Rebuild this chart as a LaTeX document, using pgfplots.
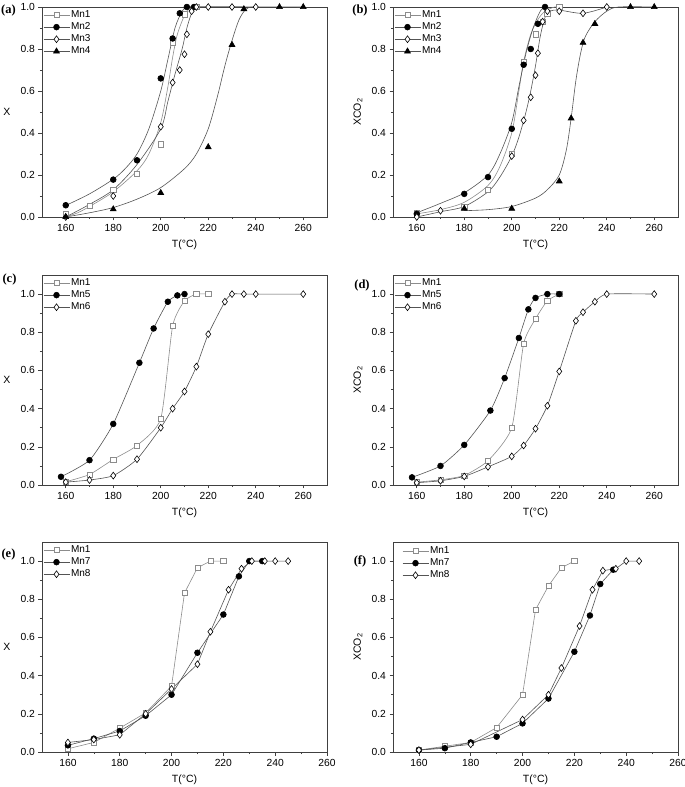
\documentclass[border=0pt]{standalone}
\usepackage{fontspec}
\setmainfont{Liberation Sans}
\newfontfamily\serifb{Liberation Serif}
\usepackage{pgfplots}
\pgfplotsset{compat=1.18}

\definecolor{lg}{gray}{0.55}
\definecolor{dg}{gray}{0.33}
\definecolor{ax}{gray}{0.25}

\pgfplotsset{
  panel/.style={
    scale only axis, width=285pt, height=210pt,
    xmin=150, xmax=270, ymin=0, ymax=1,
    xtick={160,180,200,220,240,260}, minor x tick num=1,
    ytick={0,0.2,0.4,0.6,0.8,1.0}, minor y tick num=1,
    tick pos=left, tick align=outside,
    major tick length=3.5pt, minor tick length=2pt,
    axis line style={ax, line width=0.6pt},
    tick style={ax, line width=0.6pt},
    clip=false,
    /pgf/number format/assume math mode=true,
    yticklabel style={/pgf/number format/.cd, fixed, fixed zerofill, precision=1},
    tick label style={font=\fontsize{10.3}{12}\selectfont},
    label style={font=\fontsize{10.5}{12}\selectfont},
    xlabel={T(°C)},
    xlabel style={at={([yshift=-28pt]axis description cs:0.5,0)}, anchor=center},
    ylabel style={at={([xshift=-35pt]axis description cs:0,0.5)}, anchor=center},
    legend style={draw=none, fill=none, at={([xshift=1pt,yshift=-2pt]axis description cs:0,1)},
      anchor=north west, font=\fontsize{10}{11}\selectfont,
      inner sep=0pt, row sep=0.4pt,
      nodes={inner sep=1.2pt, text height=7.3pt, text depth=2pt}},
    legend cell align=left,
    legend image code/.code={\draw[mark repeat=2,mark phase=2,#1] plot coordinates {(0pt,0pt)(13pt,0pt)(26pt,0pt)};},
  },
  tall/.style={ymax=1.1},
  s1/.style={color=lg, line width=0.6pt, mark=square*, mark size=2.6pt, mark options={fill=white, draw=lg, solid}},
  s2/.style={color=dg, line width=0.6pt, mark=*, mark size=2.9pt, mark options={fill=black, draw=black, solid}},
  s3/.style={color=dg, line width=0.6pt, mark=diamond*, mark size=3.4pt, mark options={fill=white, draw=black, solid}},
  s4/.style={color=dg, line width=0.6pt, mark=triangle*, mark size=3.4pt, mark options={fill=black, draw=black, solid}},
}

\newcommand{\plab}[2]{\node[font=\serifb\bfseries\fontsize{12.5}{13}\selectfont] at #1 {#2};}

\begin{document}
\begin{tikzpicture}
\useasboundingbox (0pt,0pt) rectangle (685pt,787pt);

% (a)
\begin{axis}[panel, at={(42pt,570pt)}, anchor=south west, ylabel={X}, ylabel style={rotate=-90}]
\addplot[lg, line width=0.6pt, smooth, forget plot] coordinates {(160,0.0)(165,0.02)(170,0.05)(180,0.12)(190,0.22)(195,0.3)(200,0.45)(203,0.62)(205,0.76)(207,0.87)(210,0.96)(212,0.99)(215,1.0)};
\addplot[dg, line width=0.6pt, smooth, forget plot] coordinates {(160,0.055)(170,0.11)(180,0.18)(185,0.23)(190,0.3)(195,0.42)(200,0.6)(203,0.75)(206,0.9)(209,0.98)(211,1.0)(214,1.0)};
\addplot[dg, line width=0.6pt, smooth, forget plot] coordinates {(160,0.0)(170,0.06)(180,0.13)(190,0.25)(200,0.42)(203,0.55)(206,0.68)(209,0.8)(211,0.9)(213,0.97)(215,1.0)(240,1.0)};
\addplot[dg, line width=0.6pt, smooth, forget plot] coordinates {(160,0.0)(170,0.02)(180,0.045)(190,0.085)(200,0.14)(210,0.23)(215,0.3)(220,0.42)(224,0.58)(227,0.72)(230,0.84)(233,0.94)(236,0.99)(240,1.0)(260,1.0)};
\addplot[s1, only marks, forget plot] coordinates {(160,0.015)(170,0.053)(180,0.13)(190,0.207)(200,0.346)(205,0.83)(210,0.965)(215,1.0)};
\addplot[s2, only marks, forget plot] coordinates {(160,0.056)(180,0.178)(190,0.27)(200,0.66)(205,0.85)(208,0.97)(211,1.0)(214,1.0)};
\addplot[s3, only marks, forget plot] coordinates {(160,0.0)(180,0.1)(200,0.43)(205,0.64)(208,0.70)(210,0.775)(211,0.87)(213,0.98)(215,1.0)(220,1.0)(230,1.0)(240,1.0)};
\addplot[s4, only marks, forget plot] coordinates {(160,0.0)(180,0.037)(200,0.115)(220,0.333)(230,0.82)(235,0.99)(250,1.0)(260,1.0)};
\addlegendimage{s1}\addlegendentry{Mn1}
\addlegendimage{s2}\addlegendentry{Mn2}
\addlegendimage{s3}\addlegendentry{Mn3}
\addlegendimage{s4}\addlegendentry{Mn4}
\end{axis}

% (b)
\begin{axis}[panel, at={(393pt,570pt)}, anchor=south west, ylabel={XCO\textsubscript{2}}]
\addplot[lg, line width=0.6pt, smooth, forget plot] coordinates {(160,0.015)(170,0.035)(180,0.07)(190,0.15)(195,0.24)(200,0.4)(203,0.6)(205,0.74)(208,0.87)(211,0.94)(214,0.98)(218,1.0)(220,1.0)};
\addplot[dg, line width=0.6pt, smooth, forget plot] coordinates {(160,0.02)(170,0.065)(180,0.115)(190,0.2)(195,0.3)(200,0.45)(203,0.62)(206,0.78)(209,0.9)(212,0.98)(214,1.0)};
\addplot[dg, line width=0.6pt, smooth, forget plot] coordinates {(160,0.0)(170,0.025)(180,0.05)(190,0.12)(195,0.19)(200,0.29)(203,0.38)(206,0.5)(208,0.6)(210,0.72)(212,0.86)(214,0.95)(216,0.98)(220,0.985)(230,0.97)(240,1.0)};
\addplot[dg, line width=0.6pt, smooth, forget plot] coordinates {(180,0.03)(190,0.035)(200,0.05)(210,0.09)(215,0.13)(220,0.2)(223,0.32)(225,0.47)(227,0.65)(229,0.78)(231,0.86)(235,0.93)(240,0.98)(245,1.0)(260,1.0)};
\addplot[s1, only marks, forget plot] coordinates {(160,0.02)(180,0.05)(190,0.13)(200,0.30)(205,0.74)(210,0.87)(213,0.93)(215,0.97)(220,1.0)};
\addplot[s2, only marks, forget plot] coordinates {(160,0.015)(180,0.11)(190,0.19)(200,0.42)(205,0.725)(208,0.80)(211,0.92)(214,1.0)};
\addplot[s3, only marks, forget plot] coordinates {(160,0.0)(170,0.03)(200,0.29)(205,0.46)(208,0.57)(210,0.675)(211,0.78)(213,0.93)(215,0.98)(220,0.98)(230,0.97)(240,1.0)};
\addplot[s4, only marks, forget plot] coordinates {(180,0.04)(200,0.04)(220,0.17)(225,0.47)(230,0.83)(235,0.92)(250,1.0)(260,1.0)};
\addlegendimage{s1}\addlegendentry{Mn1}
\addlegendimage{s2}\addlegendentry{Mn2}
\addlegendimage{s3}\addlegendentry{Mn3}
\addlegendimage{s4}\addlegendentry{Mn4}
\end{axis}

% (c)
\begin{axis}[panel, tall, at={(42pt,302pt)}, anchor=south west, ylabel={X}, ylabel style={rotate=-90}]
\addplot[s1, smooth, tension=0.35] coordinates {(160,0.017)(170,0.055)(180,0.134)(190,0.207)(200,0.347)(205,0.833)(210,0.964)(215,1.0)(220,1.0)};
\addplot[s2, smooth, tension=0.35] coordinates {(158,0.043)(170,0.13)(180,0.32)(191,0.64)(197,0.82)(203,0.96)(207,0.993)(210,1.0)};
\addplot[s3, smooth, tension=0.35] coordinates {(160,0.015)(170,0.026)(180,0.049)(190,0.135)(200,0.30)(205,0.40)(210,0.49)(215,0.62)(220,0.79)(227,0.96)(230,1.0)(235,1.0)(240,1.0)(260,1.0)};
\legend{Mn1,Mn5,Mn6}
\end{axis}

% (d)
\begin{axis}[panel, tall, at={(393pt,302pt)}, anchor=south west, ylabel={XCO\textsubscript{2}}]
\addplot[s1, smooth, tension=0.35] coordinates {(160,0.015)(170,0.027)(180,0.05)(190,0.127)(200,0.30)(205,0.74)(210,0.87)(215,0.965)(220,1.0)};
\addplot[s2, smooth, tension=0.35] coordinates {(158,0.04)(170,0.10)(180,0.21)(191,0.39)(197,0.56)(203,0.77)(207,0.92)(210,0.98)(215,1.0)(220,1.0)};
\addplot[s3, smooth, tension=0.35] coordinates {(160,0.012)(170,0.022)(180,0.045)(190,0.095)(200,0.15)(205,0.207)(210,0.295)(215,0.415)(220,0.595)(227,0.86)(230,0.905)(235,0.96)(240,1.0)(260,1.0)};
\legend{Mn1,Mn5,Mn6}
\end{axis}

% (e)
\begin{axis}[panel, tall, xmax=260, at={(42pt,35pt)}, anchor=south west, ylabel={X}, ylabel style={rotate=-90}]
\addplot[s1] coordinates {(160,0.017)(170,0.05)(180,0.125)(190,0.205)(200,0.345)(205,0.833)(210,0.965)(215,1.0)(220,1.0)};
\addplot[s2] coordinates {(160,0.035)(170,0.07)(180,0.11)(190,0.19)(200,0.30)(210,0.52)(220,0.72)(226,0.92)(230,1.0)(235,1.0)};
\addplot[s3] coordinates {(160,0.05)(170,0.065)(180,0.09)(190,0.20)(200,0.33)(210,0.46)(215,0.63)(222,0.85)(227,0.96)(231,1.0)(236,1.0)(240,1.0)(245,1.0)};
\legend{Mn1,Mn7,Mn8}
\end{axis}

% (f)
\begin{axis}[panel, tall, xmax=260, at={(393pt,35pt)}, anchor=south west, ylabel={XCO\textsubscript{2}},
  legend style={at={([xshift=9pt,yshift=-3pt]axis description cs:0,1)}}]
\addplot[s1] coordinates {(160,0.01)(170,0.03)(180,0.05)(190,0.128)(200,0.30)(205,0.745)(210,0.87)(215,0.965)(220,1.0)};
\addplot[s2] coordinates {(160,0.01)(170,0.02)(180,0.05)(190,0.08)(200,0.15)(210,0.28)(220,0.525)(226,0.715)(230,0.88)(235,0.955)};
\addplot[s3] coordinates {(160,0.01)(180,0.04)(200,0.17)(210,0.30)(215,0.44)(222,0.66)(227,0.85)(231,0.95)(236,0.96)(240,1.0)(245,1.0)};
\legend{Mn1,Mn7,Mn8}
\end{axis}

\plab{(8.5pt,776pt)}{(a)}
\plab{(360pt,776pt)}{(b)}
\plab{(9.5pt,507pt)}{(c)}
\plab{(362pt,501pt)}{(d)}
\plab{(8.5pt,233pt)}{(e)}
\plab{(360pt,226pt)}{(f)}
\end{tikzpicture}
\end{document}
